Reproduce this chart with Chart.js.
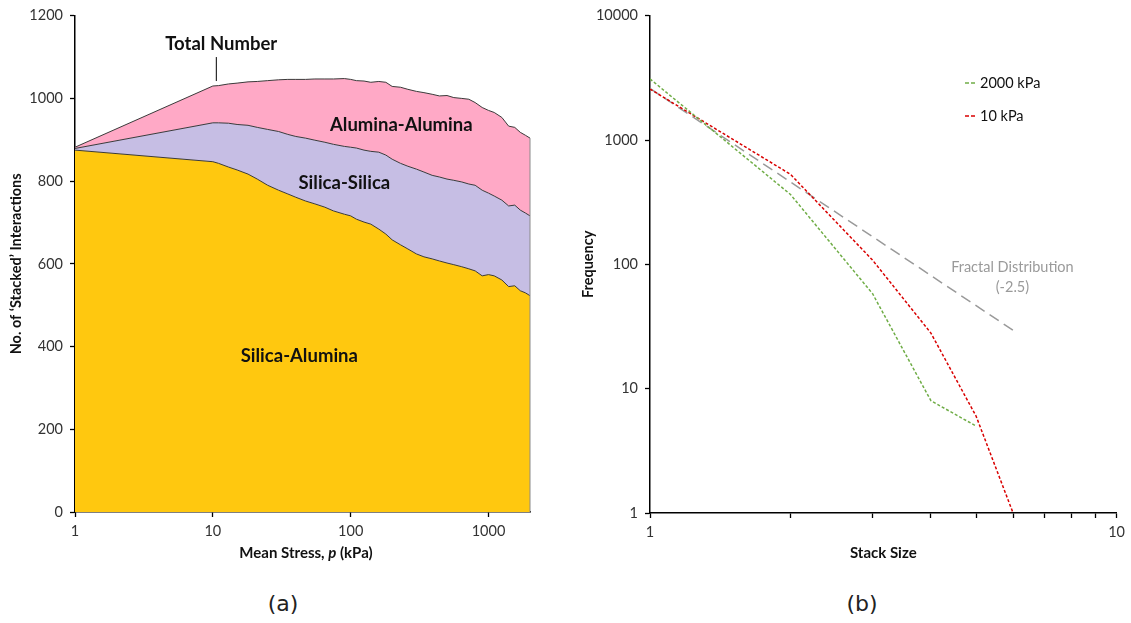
<!DOCTYPE html>
<html>
<head>
<meta charset="utf-8">
<script src="https://cdn.jsdelivr.net/npm/chart.js@4.4.1/dist/chart.umd.min.js"></script>
<style>
  body { margin: 0; background: #fff; width: 1131px; height: 623px; position: relative; overflow: hidden; }
  canvas { position: absolute; top: 0; }
  #graph1 { left: 0; }
  #graph2 { left: 565px; }
  .cap { position: absolute; top: 591px; width: 60px; text-align: center; font-family: 'DejaVu Sans', sans-serif; font-size: 22px; color: #222; }
</style>
</head>
<body>
<canvas id="graph1" width="565" height="580"></canvas>
<canvas id="graph2" width="566" height="580"></canvas>
<div class="cap" style="left:253px">(a)</div>
<div class="cap" style="left:832px">(b)</div>
<script>
// (a) stacked interactions vs mean stress
const stress = [1, 10, 11, 13, 15, 18, 21, 25, 30, 35, 40, 47, 55, 65, 75, 90, 100, 110, 125, 140,
    160, 180, 200, 230, 260, 300, 340, 390, 440, 500, 560, 640, 720, 800, 900, 1000, 1100, 1250, 1400, 1550,
    1700, 1850, 2000];
const silicaAlumina = [875, 847, 843, 834, 827, 817, 805, 790, 778, 769, 761, 752, 745, 737, 728, 720, 716, 708, 701, 696,
    684, 672, 658, 646, 636, 624, 617, 612, 607, 602, 598, 593, 588, 583, 571, 574, 571, 561, 545, 547,
    535, 530, 523];
const silicaSilica = [4, 94, 98, 106, 110, 118, 125, 135, 142, 144, 147, 152, 154, 157, 161, 164, 166, 172, 174, 176,
    186, 191, 195, 197, 200, 205, 205, 202, 203, 203, 204, 205, 205, 207, 207, 197, 193, 193, 195, 195,
    195, 193, 193];
const aluminaAlumina = [3, 89, 90, 95, 100, 105, 111, 118, 125, 133, 138, 142, 148, 153, 158, 164, 164, 163, 167, 167,
    171, 176, 176, 184, 186, 188, 192, 196, 196, 202, 200, 202, 205, 200, 200, 200, 202, 200, 193, 188,
    188, 188, 188];
const stressTicks = [1, 10, 100, 1000];
const countTicks = [0, 200, 400, 600, 800, 1000, 1200];

// (b) stack size distribution
const stackSize = [1, 2, 3, 4, 5, 6];
const freq2000 = [3100, 365, 58, 8, 5];
const freq10 = [2570, 530, 108, 28, 6, 1];
const fractalSize = [1, 6];
const fractalFreq = [2600, 29.5];
const sizeTicks = [1, 2, 3, 4, 5, 6, 7, 8, 9, 10];
const freqTicks = [1, 10, 100, 1000, 10000];

Chart.defaults.font.family = 'Lato';
Chart.defaults.color = '#333';
Chart.defaults.animation = false;

const pts = (xs, ys) => ys.map((v, i) => ({ x: xs[i], y: v }));
const totals = stress.map((_, i) => silicaAlumina[i] + silicaSilica[i] + aluminaAlumina[i]);

const axisStyle = {
    border: { color: '#000', width: 1.5 },
    grid: { drawOnChartArea: false, drawTicks: true, tickLength: 5, tickColor: '#000', tickWidth: 1.3 },
};

const labels1 = {
    id: 'labels1',
    afterDatasetsDraw(chart) {
        const { ctx, scales: { x, y } } = chart;
        const last = stress.length - 1;
        ctx.save();
        // outline on the right end of the areas
        const xe = x.getPixelForValue(stress[last]);
        ctx.strokeStyle = '#8a8a8a';
        ctx.lineWidth = 1;
        ctx.beginPath();
        ctx.moveTo(xe, y.getPixelForValue(0));
        ctx.lineTo(xe, y.getPixelForValue(totals[last]));
        ctx.stroke();

        // leader for the total curve
        ctx.strokeStyle = '#000';
        ctx.beginPath();
        ctx.moveTo(x.getPixelForValue(10.6), y.getPixelForValue(1100));
        ctx.lineTo(x.getPixelForValue(10.6), y.getPixelForValue(1042));
        ctx.stroke();

        ctx.fillStyle = '#111';
        ctx.textAlign = 'center';
        ctx.textBaseline = 'middle';
        ctx.font = 'bold 18.5px Lato';
        ctx.fillText('Total Number', x.getPixelForValue(11.5), y.getPixelForValue(1132));
        ctx.fillText('Alumina-Alumina', x.getPixelForValue(233), y.getPixelForValue(935));
        ctx.fillText('Silica-Silica', x.getPixelForValue(90), y.getPixelForValue(795));
        ctx.fillText('Silica-Alumina', x.getPixelForValue(42.4), y.getPixelForValue(378));

        // x axis title, p in italics
        const parts = [['Mean Stress, ', 'bold 15px Lato'], ['p', 'italic bold 15px Lato'], [' (kPa)', 'bold 15px Lato']];
        let w = 0;
        parts.forEach(p => { ctx.font = p[1]; w += ctx.measureText(p[0]).width; });
        let tx = 306 - w / 2;
        ctx.textAlign = 'left';
        parts.forEach(p => {
            ctx.font = p[1];
            ctx.fillText(p[0], tx, 553);
            tx += ctx.measureText(p[0]).width;
        });
        ctx.restore();
    }
};

const chart1 = document.getElementById('graph1').getContext('2d');
const myChart1 = new Chart(chart1, {
    type: 'line',
    data: {
        datasets: [
            {
                label: 'Silica-Alumina',
                data: pts(stress, silicaAlumina),
                backgroundColor: '#FFC80F',
                borderColor: '#3a3a3a',
                borderWidth: 1,
                fill: 'origin',
            },
            {
                label: 'Silica-Silica',
                data: pts(stress, silicaSilica),
                backgroundColor: '#C6BEE4',
                borderColor: '#3a3a3a',
                borderWidth: 1,
                fill: '-1',
            },
            {
                label: 'Alumina-Alumina',
                data: pts(stress, aluminaAlumina),
                backgroundColor: '#FFA9C6',
                borderColor: '#3a3a3a',
                borderWidth: 1,
                fill: '-1',
            }
        ]
    },
    options: {
        responsive: false,
        layout: { padding: { left: 0, right: 35, top: 14, bottom: 0 } },
        elements: { point: { radius: 0 }, line: { tension: 0 } },
        scales: {
            x: {
                type: 'logarithmic',
                min: 1,
                max: 2000,
                ...axisStyle,
                afterBuildTicks: (s) => { s.ticks = stressTicks.map(v => ({ value: v })); },
                afterFit: (s) => { s.height = 68; },
                ticks: {
                    autoSkip: false, maxRotation: 0, padding: 6,
                    font: { size: 14.5 }, color: '#333',
                    callback: (v) => String(v),
                },
            },
            y: {
                stacked: true,
                min: 0,
                max: 1200,
                ...axisStyle,
                afterBuildTicks: (s) => { s.ticks = countTicks.map(v => ({ value: v })); },
                afterFit: (s) => { s.width = 75; },
                ticks: { padding: 7, font: { size: 14.5 }, color: '#333', callback: (v) => String(v) },
                title: {
                    display: true,
                    text: 'No. of \u2018Stacked\u2019 Interactions',
                    font: { size: 14.5, weight: 'bold' },
                    color: '#111',
                    padding: { top: 8, bottom: 0 },
                },
            },
        },
        plugins: {
            legend: { display: false },
            tooltip: { enabled: false },
        }
    },
    plugins: [labels1]
});

const labels2 = {
    id: 'labels2',
    afterDatasetsDraw(chart) {
        const { ctx, scales: { x, y } } = chart;
        ctx.save();
        ctx.textBaseline = 'middle';
        ctx.font = '14.5px Lato';
        // legend for the two measured series
        [[0, 83], [1, 116]].forEach(([i, ly]) => {
            const ds = chart.data.datasets[i];
            ctx.strokeStyle = ds.borderColor;
            ctx.lineWidth = 1.5;
            ctx.setLineDash([4, 2]);
            ctx.beginPath();
            ctx.moveTo(400, ly);
            ctx.lineTo(412, ly);
            ctx.stroke();
            ctx.setLineDash([]);
            ctx.fillStyle = '#111';
            ctx.textAlign = 'left';
            ctx.fillText(ds.label, 415, ly);
        });
        ctx.fillStyle = '#9a9a9a';
        ctx.textAlign = 'center';
        ctx.fillText('Fractal Distribution', x.getPixelForValue(5.98), y.getPixelForValue(94.6));
        ctx.fillText('(-2.5)', x.getPixelForValue(5.98), y.getPixelForValue(65.3));
        ctx.restore();
    }
};

const chart2 = document.getElementById('graph2').getContext('2d');
const myChart2 = new Chart(chart2, {
    type: 'line',
    data: {
        datasets: [
            {
                label: '2000 kPa',
                data: pts(stackSize, freq2000),
                borderColor: '#70AD47',
                borderWidth: 1.5,
                borderDash: [3, 2],
                fill: false,
            },
            {
                label: '10 kPa',
                data: pts(stackSize, freq10),
                borderColor: '#D90000',
                borderWidth: 1.5,
                borderDash: [3, 2],
                fill: false,
            },
            {
                label: 'Fractal Distribution (-2.5)',
                data: pts(fractalSize, fractalFreq),
                borderColor: '#9a9a9a',
                borderWidth: 1.5,
                borderDash: [11, 6],
                fill: false,
            }
        ]
    },
    options: {
        responsive: false,
        layout: { padding: { left: 0, right: 10, top: 14, bottom: 0 } },
        elements: { point: { radius: 0 }, line: { tension: 0 } },
        scales: {
            x: {
                type: 'logarithmic',
                min: 1,
                max: 10,
                ...axisStyle,
                afterBuildTicks: (s) => { s.ticks = sizeTicks.map(v => ({ value: v })); },
                afterFit: (s) => { s.height = 67; },
                ticks: {
                    autoSkip: false, maxRotation: 0, padding: 6,
                    font: { size: 14.5 }, color: '#333',
                    callback: (v) => (v === 1 || v === 10) ? String(v) : '',
                },
                title: {
                    display: true,
                    text: 'Stack Size',
                    font: { size: 15, weight: 'bold' },
                    color: '#111',
                    padding: { top: 0, bottom: 18 },
                },
            },
            y: {
                type: 'logarithmic',
                min: 1,
                max: 10000,
                ...axisStyle,
                afterBuildTicks: (s) => { s.ticks = freqTicks.map(v => ({ value: v })); },
                afterFit: (s) => { s.width = 85; },
                ticks: { padding: 7, font: { size: 14.5 }, color: '#333', callback: (v) => String(v) },
                title: {
                    display: true,
                    text: 'Frequency',
                    font: { size: 14.5, weight: 'bold' },
                    color: '#111',
                    padding: { top: 15, bottom: 0 },
                },
            },
        },
        plugins: {
            legend: { display: false },
            tooltip: { enabled: false },
        }
    },
    plugins: [labels2]
});
</script>
</body>
</html>
